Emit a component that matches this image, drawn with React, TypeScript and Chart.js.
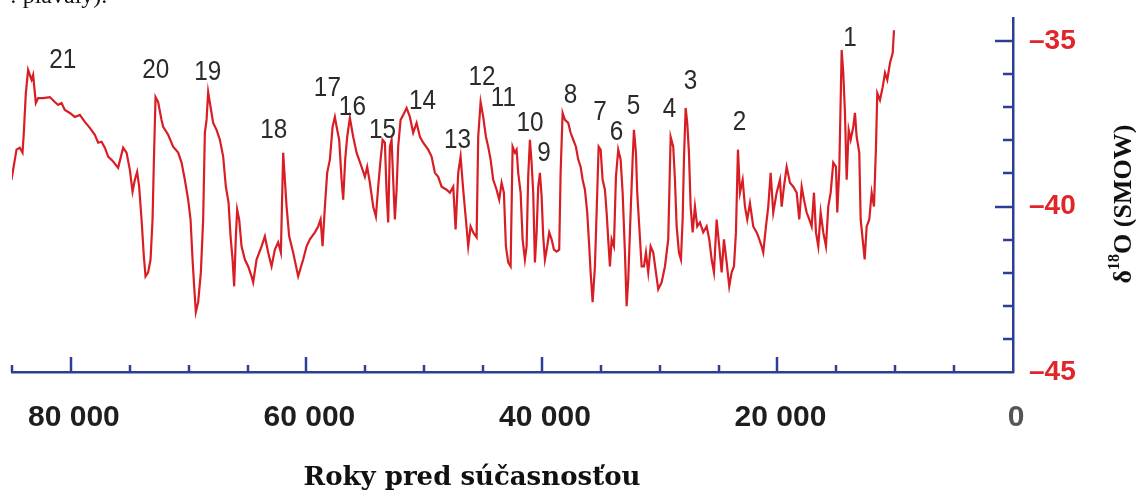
import React, { useEffect, useRef } from "react";
import { Chart, registerables } from "chart.js";

Chart.register(...registerables);

// Years before present (x) and δ18O values (y)
const years = [
  85040, 84905, 84616, 84335, 84106, 83996, 83826, 83631, 83342, 83206,
  82977, 82781, 82357, 81788, 81363, 81083, 80794, 80514, 80089, 79664,
  79240, 78815, 78390, 77966, 77685, 77397, 77116, 76836, 76411, 75987,
  75562, 75273, 74993, 74763, 74569, 74373, 74204, 73999, 73804, 73660,
  73439, 73235, 73065, 72955, 72810, 72590, 72301, 72165, 71740, 71316,
  70891, 70602, 70322, 70042, 69838, 69668, 69532, 69388, 69192, 68963,
  68768, 68623, 68479, 68343, 68139, 67918, 67630, 67349, 67069, 66840,
  66611, 66441, 66271, 66135, 65991, 65880, 65710, 65507, 65226, 64945,
  64657, 64521, 64233, 63808, 63528, 63247, 62959, 62678, 62398, 62169,
  61973, 61829, 61684, 61464, 61125, 60700, 60275, 59986, 59706, 59281,
  59001, 58797, 58627, 58432, 58237, 58007, 57778, 57583, 57387, 57217,
  57013, 56877, 56707, 56538, 56309, 56028, 55740, 55315, 55035, 54839,
  54610, 54330, 54100, 53905, 53701, 53531, 53336, 53192, 53056, 52911,
  52767, 52631, 52487, 52342, 52207, 52003, 51782, 51493, 51213, 50933,
  50644, 50363, 50083, 49659, 49370, 49090, 48809, 48520, 48096, 47816,
  47535, 47331, 47111, 46907, 46686, 46457, 46261, 46058, 45837, 45548,
  45412, 45208, 44988, 44758, 44563, 44359, 44138, 43849, 43629, 43425,
  43229, 43060, 42864, 42660, 42491, 42295, 42151, 42015, 41811, 41641,
  41446, 41302, 41166, 41021, 40877, 40741, 40597, 40452, 40316, 40172,
  40027, 39892, 39747, 39552, 39382, 39178, 38983, 38754, 38533, 38414,
  38244, 38049, 37768, 37565, 37344, 37114, 36919, 36715, 36545, 36350,
  36155, 35985, 35866, 35696, 35501, 35357, 35187, 35017, 34847, 34651,
  34507, 34371, 34227, 34082, 33887, 33717, 33522, 33318, 33148, 32953,
  32808, 32672, 32469, 32299, 32188, 32019, 31908, 31738, 31535, 31339,
  31169, 30974, 30770, 30549, 30320, 30125, 29836, 29556, 29275, 29071,
  28851, 28706, 28562, 28367, 28197, 28052, 27942, 27797, 27662, 27517,
  27373, 27203, 27008, 26812, 26583, 26303, 26014, 25793, 25589, 25394,
  25165, 24944, 24740, 24545, 24315, 24095, 23891, 23695, 23526, 23356,
  23186, 22957, 22761, 22566, 22337, 22056, 21768, 21632, 21343, 21207,
  20978, 20782, 20579, 20358, 20069, 19789, 19644, 19449, 19220, 18939,
  18659, 18370, 18149, 17946, 17750, 17521, 17300, 17096, 16901, 16731,
  16536, 16332, 16111, 15882, 15687, 15483, 15262, 15033, 14922, 14752,
  14548, 14413, 14268, 14124, 13954, 13784, 13563, 13419, 13275, 13054,
  12935, 12765, 12595, 12425, 12204, 12001, 11805, 11635, 11525, 11296,
  11066, 10871, 10676, 10446, 10217, 10107,
];

const d18O = [
  -39.19, -38.89, -38.28, -38.22, -38.37, -37.77, -36.57, -35.87, -36.17, -36.02,
  -36.87, -36.72, -36.72, -36.69, -36.84, -36.93, -36.87, -37.08, -37.17, -37.29,
  -37.23, -37.44, -37.62, -37.83, -38.07, -38.04, -38.22, -38.49, -38.64, -38.83,
  -38.22, -38.37, -38.89, -39.55, -39.19, -38.95, -39.40, -40.39, -41.51, -42.11,
  -41.99, -41.60, -40.39, -38.67, -36.69, -36.84, -37.38, -37.59, -37.83, -38.19,
  -38.37, -38.67, -39.19, -39.79, -40.39, -41.60, -42.41, -43.19, -42.89, -41.99,
  -40.39, -37.77, -37.38, -36.54, -36.99, -37.47, -37.68, -37.98, -38.49, -39.40,
  -39.88, -40.90, -41.60, -42.41, -40.90, -40.09, -40.39, -41.20, -41.60, -41.81,
  -42.11, -42.29, -41.60, -41.20, -40.90, -41.39, -41.81, -41.30, -41.08, -41.39,
  -38.37, -39.19, -40.00, -40.90, -41.39, -42.11, -41.60, -41.20, -40.99, -40.78,
  -40.60, -40.39, -41.20, -40.00, -38.98, -38.58, -37.59, -37.29, -37.68, -37.98,
  -39.19, -39.79, -38.58, -37.89, -37.32, -37.89, -38.37, -38.80, -39.10, -38.80,
  -39.28, -40.00, -40.30, -39.40, -38.58, -37.98, -38.07, -39.58, -40.48, -38.19,
  -37.98, -39.19, -40.39, -39.49, -38.19, -37.38, -37.23, -37.02, -37.29, -37.77,
  -37.47, -37.89, -38.07, -38.28, -38.49, -38.98, -39.10, -39.40, -39.49, -39.58,
  -39.40, -40.69, -38.98, -38.49, -39.49, -40.39, -41.20, -40.60, -40.78, -40.93,
  -37.89, -36.84, -37.29, -37.89, -38.19, -38.58, -39.19, -39.49, -39.79, -39.28,
  -39.58, -41.20, -41.69, -41.81, -38.19, -38.37, -38.28, -38.98, -39.58, -40.99,
  -41.60, -41.20, -39.10, -37.98, -38.67, -39.58, -41.69, -40.78, -39.40, -38.98,
  -39.70, -40.90, -41.60, -41.20, -40.78, -40.99, -41.30, -41.36, -41.30, -38.98,
  -37.17, -37.38, -37.47, -37.77, -37.98, -38.19, -38.58, -38.80, -39.19, -39.49,
  -40.18, -41.20, -41.99, -42.89, -41.81, -40.18, -38.19, -38.28, -39.19, -39.49,
  -40.18, -40.99, -41.81, -40.99, -41.20, -39.10, -38.28, -38.58, -39.58, -41.39,
  -43.01, -42.20, -40.18, -38.58, -37.68, -38.37, -39.58, -40.60, -41.81, -41.81,
  -41.39, -41.99, -41.20, -41.39, -41.99, -42.50, -42.29, -41.81, -40.99, -37.89,
  -38.19, -39.19, -40.60, -41.39, -41.60, -40.39, -38.58, -37.02, -37.47, -38.37,
  -40.00, -40.78, -40.00, -40.60, -40.48, -40.78, -40.60, -40.99, -41.60, -41.99,
  -40.39, -41.20, -41.99, -40.99, -41.69, -42.41, -41.99, -41.81, -40.78, -38.28,
  -39.58, -39.19, -40.00, -40.39, -39.90, -40.60, -40.78, -40.90, -41.20, -41.39,
  -40.60, -40.00, -38.98, -40.18, -39.58, -39.19, -40.00, -39.40, -38.80, -39.28,
  -39.40, -39.58, -40.39, -39.40, -39.79, -40.18, -40.39, -40.60, -39.58, -40.78,
  -41.20, -40.18, -40.78, -41.20, -40.00, -39.58, -38.67, -38.80, -40.18, -38.89,
  -35.27, -35.96, -37.17, -39.19, -37.68, -37.98, -37.59, -37.17, -37.89, -38.37,
  -40.39, -40.99, -41.60, -40.60, -40.39, -39.58, -40.00, -38.19, -36.57, -36.78,
  -36.39, -35.96, -36.17, -35.66, -35.36, -34.67,
];

// Numbered interstadial peaks (label text, year, δ18O position of the label)
const peakNumbers = ["21", "20", "19", "18", "17", "16", "15", "14", "13", "12", "11", "10", "9", "8", "7", "6", "5", "4", "3", "2", "1"];
const peakYears = [80684, 72785, 68369, 62763, 58219, 56096, 53548, 50151, 47178, 45098, 43273, 41021, 39832, 37581, 35076, 33675, 32231, 29174, 27390, 23229, 13844];
const peakValues = [-35.6, -35.9, -35.96, -37.71, -36.42, -37.0, -37.71, -36.84, -38.01, -36.1, -36.72, -37.5, -38.4, -36.63, -37.17, -37.77, -36.99, -37.08, -36.23, -37.45, -34.92];

// Axis settings and labels
const xMin = 0;
const xMax = 85000;
const xStep = 5000;
const xMajor = 20000;
const xTickLabels: Record<string, string> = { "80000": "80 000", "60000": "60 000", "40000": "40 000", "20000": "20 000", "0": "0" };
const yMin = -45;
const yMax = -34.3;
const yStep = 1;
const yTickLabels: Record<string, string> = { "-35": "–35", "-40": "–40", "-45": "–45" };
const xTitle = "Roky pred súčasnosťou";
const yTitleParts = ["δ", "18", "O (SMOW)"];
const cutText = ": plávaly).";

const AXIS_BLUE = "#2c3f97";
const LINE_RED = "#d81e24";
const LABEL_RED = "#e0262b";

const decorPlugin = {
  id: "decor",
  afterDraw(chart: any) {
    const { ctx, chartArea } = chart;
    const x = chart.scales.x;
    const y = chart.scales.y;
    ctx.save();
    ctx.strokeStyle = AXIS_BLUE;
    ctx.lineWidth = 2.5;
    // inward x ticks
    x.ticks.forEach((t: any) => {
      const v = Math.round(t.value);
      if (v <= 0) return;
      const px = Math.round(x.getPixelForValue(v));
      const len = v % xMajor === 0 ? 15 : 7;
      ctx.beginPath();
      ctx.moveTo(px, chartArea.bottom);
      ctx.lineTo(px, chartArea.bottom - len);
      ctx.stroke();
    });
    // inward y ticks
    y.ticks.forEach((t: any) => {
      const v = Math.round(t.value);
      if (v <= yMin) return;
      const py = Math.round(y.getPixelForValue(v));
      const len = v % 5 === 0 ? 18 : 10;
      ctx.beginPath();
      ctx.moveTo(chartArea.right, py);
      ctx.lineTo(chartArea.right - len, py);
      ctx.stroke();
    });

    // peak numbers
    ctx.fillStyle = "#2b2b2b";
    ctx.font = '27px "Liberation Sans", Arial, sans-serif';
    ctx.textAlign = "center";
    ctx.textBaseline = "middle";
    for (let i = 0; i < peakNumbers.length; i++) {
      const px = x.getPixelForValue(peakYears[i]);
      const py = y.getPixelForValue(peakValues[i]);
      ctx.save();
      ctx.translate(px, py);
      ctx.scale(0.9, 1);
      ctx.fillText(peakNumbers[i], 0, 0);
      ctx.restore();
    }

    // x axis title
    ctx.fillStyle = "#111";
    ctx.font = 'bold 26px "DejaVu Serif", "Liberation Serif", serif';
    ctx.textAlign = "center";
    ctx.textBaseline = "middle";
    ctx.fillText(xTitle, 472, 478);

    // y axis title (rotated, reading bottom to top)
    ctx.save();
    ctx.translate(1122, 204);
    ctx.rotate(-Math.PI / 2);
    const mainFont = 'bold 26px "Liberation Serif", "DejaVu Serif", serif';
    const supFont = 'bold 16px "Liberation Serif", "DejaVu Serif", serif';
    ctx.font = mainFont;
    const w0 = ctx.measureText(yTitleParts[0]).width;
    const w2 = ctx.measureText(yTitleParts[2]).width;
    ctx.font = supFont;
    const w1 = ctx.measureText(yTitleParts[1]).width;
    const total = w0 + w1 + w2;
    let cx = -total / 2;
    ctx.textAlign = "left";
    ctx.textBaseline = "alphabetic";
    ctx.font = mainFont;
    ctx.fillText(yTitleParts[0], cx, 9);
    cx += w0;
    ctx.font = supFont;
    ctx.fillText(yTitleParts[1], cx, -3);
    cx += w1;
    ctx.font = mainFont;
    ctx.fillText(yTitleParts[2], cx, 9);
    ctx.restore();

    // cut-off line of text at the very top
    ctx.fillStyle = "#111";
    ctx.font = '24px "Liberation Serif", "DejaVu Serif", serif';
    ctx.textAlign = "left";
    ctx.textBaseline = "alphabetic";
    ctx.fillText(cutText, 10, 3);

    ctx.restore();
  },
};

const zeroPadding = (s: any) => {
  s.paddingLeft = 0;
  s.paddingRight = 0;
  s.paddingTop = 0;
  s.paddingBottom = 0;
};

export default function App() {
  const canvasRef = useRef<HTMLCanvasElement | null>(null);

  useEffect(() => {
    const canvas = canvasRef.current;
    if (!canvas) return;
    const n = Math.min(years.length, d18O.length);
    const points = [];
    for (let i = 0; i < n; i++) points.push({ x: years[i], y: d18O[i] });

    const chart = new Chart(canvas, {
      type: "line",
      data: {
        datasets: [
          {
            data: points,
            borderColor: LINE_RED,
            borderWidth: 2.2,
            pointRadius: 0,
            tension: 0,
            fill: false,
          },
        ],
      },
      options: {
        animation: false,
        responsive: false,
        devicePixelRatio: 1,
        layout: { padding: { left: 12, top: 18, right: 0, bottom: 0 } },
        plugins: { legend: { display: false }, tooltip: { enabled: false } },
        scales: {
          x: {
            type: "linear",
            position: "bottom",
            reverse: true,
            min: xMin,
            max: xMax,
            grid: { drawOnChartArea: false, drawTicks: false },
            border: { color: AXIS_BLUE, width: 2.5 },
            ticks: {
              stepSize: xStep,
              includeBounds: false,
              autoSkip: false,
              maxRotation: 0,
              padding: 28,
              labelOffset: 3,
              color: (c: any) => (c.tick && Math.round(c.tick.value) === 0 ? "#555" : "#1e1e1e"),
              font: { family: '"Liberation Sans", Arial, sans-serif', size: 30, weight: "bold" },
              callback: (v: any) => xTickLabels[String(Math.round(Number(v)))] || "",
            },
            afterFit: (s: any) => {
              s.height = 124;
              zeroPadding(s);
            },
          },
          y: {
            type: "linear",
            position: "right",
            min: yMin,
            max: yMax,
            grid: { drawOnChartArea: false, drawTicks: false },
            border: { color: AXIS_BLUE, width: 2.5 },
            ticks: {
              stepSize: yStep,
              includeBounds: false,
              autoSkip: false,
              padding: 16,
              color: LABEL_RED,
              font: { family: '"Liberation Sans", Arial, sans-serif', size: 28, weight: "bold" },
              callback: (v: any) => yTickLabels[String(Math.round(Number(v)))] || "",
            },
            afterFit: (s: any) => {
              s.width = 123;
              zeroPadding(s);
            },
          },
        },
      },
      plugins: [decorPlugin],
    });
    return () => chart.destroy();
  }, []);

  return (
    <div style={{ position: "absolute", left: 0, top: 0, width: 1136, height: 496, background: "#fff" }}>
      <canvas ref={canvasRef} width={1136} height={496} style={{ display: "block" }} />
    </div>
  );
}
